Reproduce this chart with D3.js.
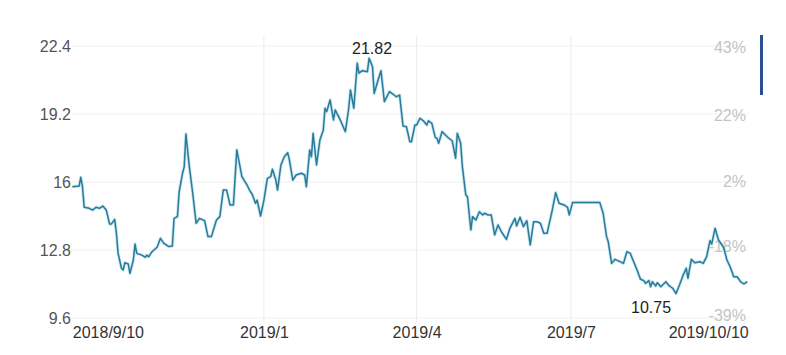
<!DOCTYPE html>
<html>
<head>
<meta charset="utf-8">
<script src="https://cdn.jsdelivr.net/npm/d3@7"></script>
<style>
  html, body { margin: 0; padding: 0; background: #fff; }
  svg { display: block; font-family: "Liberation Sans", Arial, sans-serif; }
</style>
</head>
<body>
<div id="chart"></div>
<script>
// data (daily close, approximate)
const dates = [
  "2018-09-10","2018-09-14","2018-09-15","2018-09-16","2018-09-17","2018-09-20","2018-09-22","2018-09-24","2018-09-26","2018-09-28",
  "2018-09-30","2018-10-02","2018-10-03","2018-10-05","2018-10-06","2018-10-07","2018-10-09","2018-10-10","2018-10-11","2018-10-13",
  "2018-10-14","2018-10-16","2018-10-17","2018-10-18","2018-10-21","2018-10-23","2018-10-24","2018-10-25","2018-10-27","2018-10-30",
  "2018-11-01","2018-11-03","2018-11-06","2018-11-08","2018-11-09","2018-11-11","2018-11-12","2018-11-14","2018-11-15","2018-11-16",
  "2018-11-18","2018-11-20","2018-11-22","2018-11-24","2018-11-27","2018-11-29","2018-12-01","2018-12-04","2018-12-06","2018-12-08",
  "2018-12-10","2018-12-12","2018-12-14","2018-12-16","2018-12-19","2018-12-22","2018-12-24","2018-12-25","2018-12-27","2018-12-28",
  "2018-12-30","2019-01-01","2019-01-03","2019-01-05","2019-01-06","2019-01-08","2019-01-09","2019-01-11","2019-01-13","2019-01-15",
  "2019-01-16","2019-01-18","2019-01-20","2019-01-23","2019-01-25","2019-01-26","2019-01-28","2019-01-29","2019-01-30","2019-02-01",
  "2019-02-03","2019-02-05","2019-02-06","2019-02-07","2019-02-09","2019-02-11","2019-02-12","2019-02-15","2019-02-18","2019-02-20",
  "2019-02-21","2019-02-23","2019-02-25","2019-02-26","2019-02-28","2019-03-03","2019-03-04","2019-03-06","2019-03-07","2019-03-09",
  "2019-03-11","2019-03-13","2019-03-16","2019-03-18","2019-03-20","2019-03-22","2019-03-24","2019-03-26","2019-03-28","2019-03-29",
  "2019-03-31","2019-04-01","2019-04-03","2019-04-05","2019-04-07","2019-04-08","2019-04-10","2019-04-12","2019-04-13","2019-04-14",
  "2019-04-16","2019-04-18","2019-04-20","2019-04-22","2019-04-24","2019-04-25","2019-04-27","2019-04-28","2019-04-30","2019-05-01",
  "2019-05-03","2019-05-04","2019-05-06","2019-05-08","2019-05-10","2019-05-11","2019-05-13","2019-05-15","2019-05-17","2019-05-19",
  "2019-05-21","2019-05-24","2019-05-26","2019-05-29","2019-05-30","2019-06-01","2019-06-03","2019-06-05","2019-06-07","2019-06-09",
  "2019-06-11","2019-06-13","2019-06-15","2019-06-17","2019-06-20","2019-06-22","2019-06-24","2019-06-27","2019-06-29","2019-06-30",
  "2019-07-02","2019-07-07","2019-07-13","2019-07-18","2019-07-20","2019-07-22","2019-07-23","2019-07-25","2019-07-27","2019-07-30",
  "2019-08-01","2019-08-03","2019-08-05","2019-08-07","2019-08-09","2019-08-11","2019-08-13","2019-08-14","2019-08-16","2019-08-17",
  "2019-08-18","2019-08-20","2019-08-21","2019-08-23","2019-08-26","2019-08-28","2019-08-30","2019-09-01","2019-09-03","2019-09-05",
  "2019-09-07","2019-09-08","2019-09-10","2019-09-12","2019-09-15","2019-09-17","2019-09-19","2019-09-21","2019-09-22","2019-09-24",
  "2019-09-26","2019-09-29","2019-10-01","2019-10-03","2019-10-05","2019-10-07","2019-10-09","2019-10-11","2019-10-13"
];
const prices = [
  15.78,15.81,16.22,15.78,14.81,14.76,14.68,14.81,14.76,14.87,
  14.68,14.02,14.02,14.24,13.59,12.64,11.94,11.86,12.20,12.14,
  11.70,12.33,13.08,12.64,12.56,12.46,12.56,12.48,12.72,12.93,
  13.35,13.11,12.96,12.99,14.29,14.37,15.54,16.41,16.72,18.26,
  16.72,15.47,14.06,14.29,14.18,13.43,13.43,14.21,14.37,15.62,
  15.62,14.92,14.92,17.51,16.25,15.86,15.54,15.44,15.00,15.15,
  14.40,15.15,16.17,16.25,16.60,16.09,15.62,16.80,17.19,17.38,
  17.04,16.09,16.33,16.41,16.33,15.78,17.51,17.19,18.29,16.80,
  17.98,18.45,19.47,19.31,19.86,18.92,19.39,18.92,18.37,19.47,
  20.33,19.47,21.59,21.12,21.24,21.19,21.82,21.43,20.17,20.72,
  21.24,19.78,20.25,20.14,20.01,20.09,18.64,18.60,17.90,17.90,
  18.68,18.68,19.00,18.88,18.68,18.88,18.76,18.10,18.06,17.82,
  18.37,18.21,18.06,17.94,17.12,18.29,17.82,16.72,15.39,15.31,
  13.74,14.37,14.21,14.60,14.45,14.53,14.45,14.45,13.51,13.98,
  13.66,13.30,13.82,14.29,13.93,14.34,13.90,14.18,13.04,14.13,
  14.13,14.06,13.59,13.59,14.68,15.50,15.00,14.92,14.81,14.45,
  15.04,15.04,15.04,15.04,14.53,13.43,13.19,12.17,12.36,12.25,
  12.17,12.72,12.64,12.25,11.86,11.42,11.36,11.23,11.36,11.07,
  11.31,11.11,11.26,11.07,11.31,11.11,11.00,10.75,11.15,11.58,
  11.94,11.47,12.36,12.20,12.25,12.17,12.48,13.24,13.08,13.82,
  13.27,12.93,12.33,11.99,11.54,11.54,11.31,11.20,11.31
];

// axis ticks
const priceTicks = [9.6, 12.8, 16, 19.2, 22.4];
const pctTicks = [-39, -18, 2, 22, 43];
const xTickDates = ["2018-09-10", "2019-01-01", "2019-04-01", "2019-07-01", "2019-10-10"];
const xTickLabels = ["2018/9/10", "2019/1", "2019/4", "2019/7", "2019/10/10"];
const gridDates = ["2019-01-01", "2019-04-01", "2019-07-01"];

const W = 786, H = 355;
const parse = d3.timeParse("%Y-%m-%d");
const data = dates.map((d, i) => ({ date: parse(d), value: prices[i] }));

const svg = d3.select("#chart").append("svg")
  .attr("width", W)
  .attr("height", H);

// scales
const x = d3.scaleTime()
  .domain([parse("2018-09-10"), parse("2019-10-13")])
  .range([72.3, 747.3]);

const y = d3.scaleLinear()
  .domain([9.6, 22.4])
  .range([318, 46]);

// right axis sits a touch lower in the middle, but keeps clear of the date labels
const yPct = d3.scaleLinear()
  .domain([-39, 43])
  .range([315, 47]);

// gridlines
svg.append("g")
  .selectAll("line")
  .data(priceTicks)
  .join("line")
  .attr("x1", 72).attr("x2", 748)
  .attr("y1", d => y(d)).attr("y2", d => y(d))
  .attr("stroke", "#f0f0f0")
  .attr("stroke-width", 1);

svg.append("g")
  .selectAll("line")
  .data(gridDates)
  .join("line")
  .attr("x1", d => x(parse(d))).attr("x2", d => x(parse(d)))
  .attr("y1", 36).attr("y2", 322)
  .attr("stroke", "#ececec")
  .attr("stroke-width", 1);

// left axis
const yAxis = svg.append("g")
  .attr("transform", "translate(72,0)")
  .call(d3.axisLeft(y).tickValues(priceTicks).tickSize(0).tickPadding(1)
    .tickFormat(d => String(d)));
yAxis.select(".domain").remove();
yAxis.selectAll("text")
  .attr("fill", "#555")
  .style("font-size", "16px");

// right axis (percent change)
const pAxis = svg.append("g")
  .attr("transform", "translate(746,0)")
  .call(d3.axisLeft(yPct).tickValues(pctTicks).tickSize(0).tickPadding(0)
    .tickFormat(d => d + "%"));
pAxis.select(".domain").remove();
pAxis.selectAll("text")
  .attr("fill", "#c4c4c4")
  .style("font-size", "16px");

// bottom axis
const xAxis = svg.append("g")
  .attr("transform", "translate(0,318)")
  .call(d3.axisBottom(x)
    .tickValues(xTickDates.map(parse))
    .tickSize(0)
    .tickPadding(9)
    .tickFormat((d, i) => xTickLabels[i]));
xAxis.select(".domain").remove();
xAxis.selectAll("text")
  .attr("fill", "#333")
  .style("font-size", "16px")
  .attr("text-anchor", (d, i) => i === 0 ? "start" : (i === xTickLabels.length - 1 ? "end" : "middle"))
  .attr("dx", (d, i) => i === xTickLabels.length - 1 ? 6 : 0);

// price line
const line = d3.line()
  .x(d => x(d.date))
  .y(d => y(d.value));

svg.append("path")
  .datum(data)
  .attr("fill", "none")
  .attr("stroke", "#9fd6ea")
  .attr("stroke-width", 3.2)
  .attr("stroke-opacity", 0.6)
  .attr("stroke-linejoin", "round")
  .attr("d", line);

svg.append("path")
  .datum(data)
  .attr("fill", "none")
  .attr("stroke", "#2b7a98")
  .attr("stroke-width", 1.5)
  .attr("stroke-linejoin", "round")
  .attr("d", line);

// max / min labels
const maxPt = data.reduce((a, b) => b.value > a.value ? b : a);
const minPt = data.reduce((a, b) => b.value < a.value ? b : a);

svg.append("text")
  .attr("x", x(maxPt.date) + 3)
  .attr("y", y(maxPt.value) - 4)
  .attr("text-anchor", "middle")
  .attr("fill", "#222")
  .style("font-size", "16px")
  .text(maxPt.value.toFixed(2));

svg.append("text")
  .attr("x", x(minPt.date) - 25)
  .attr("y", y(minPt.value) + 19)
  .attr("text-anchor", "middle")
  .attr("fill", "#222")
  .style("font-size", "16px")
  .text(minPt.value.toFixed(2));

// blue marker bar at top right
svg.append("rect")
  .attr("x", 760)
  .attr("y", 35)
  .attr("width", 3)
  .attr("height", 60)
  .attr("fill", "#2c4f8f");
</script>
</body>
</html>
